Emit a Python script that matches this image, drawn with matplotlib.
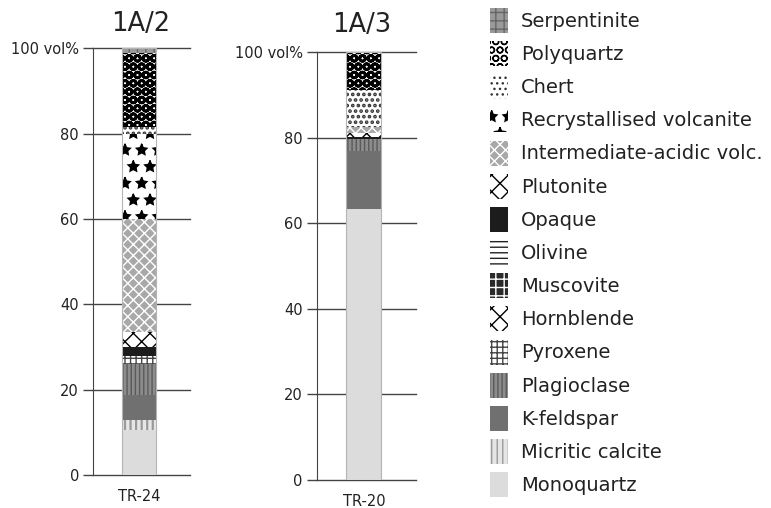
import matplotlib.pyplot as plt
from matplotlib.patches import Patch

# stacking order, bottom -> top
minerals = ['Monoquartz', 'Micritic calcite', 'K-feldspar', 'Plagioclase', 'Pyroxene',
            'Hornblende', 'Muscovite', 'Olivine', 'Opaque', 'Plutonite',
            'Intermediate-acidic volc.', 'Recrystallised volcanite', 'Chert',
            'Polyquartz', 'Serpentinite']

# vol%
tr24 = [10.6, 2.3, 5.9, 7.2, 1.9, 0, 0, 0, 2.2, 3.5, 26.4, 20.0, 1.5, 17.3, 1.2]
tr20 = [63.4, 0, 13.6, 2.7, 0, 0, 0, 0, 0.4, 1.0, 1.4, 0, 8.7, 8.8, 0]

samples = ['TR-24', 'TR-20']
titles = ['1A/2', '1A/3']
yticks = [0, 20, 40, 60, 80, 100]
ylabels = ['0', '20', '40', '60', '80', '100 vol%']

# facecolor, hatch colour, hatch, hatch linewidth
styles = {
    'Monoquartz': ('#dcdcdc', '#dcdcdc', '', 1.0),
    'Micritic calcite': ('#e6e6e6', '#9a9a9a', '|||', 1.6),
    'K-feldspar': ('#707070', '#707070', '', 1.0),
    'Plagioclase': ('#8c8c8c', '#5a5a5a', '||||', 1.0),
    'Pyroxene': ('white', '#444444', '+++', 1.0),
    'Hornblende': ('white', 'black', 'xx', 2.5),
    'Muscovite': ('#2a2a2a', 'white', '++', 1.0),
    'Olivine': ('white', '#222222', '---', 2.0),
    'Opaque': ('#1c1c1c', '#1c1c1c', '', 1.0),
    'Plutonite': ('white', 'black', 'xx', 1.0),
    'Intermediate-acidic volc.': ('#a8a8a8', 'white', 'xxx', 1.0),
    'Recrystallised volcanite': ('white', 'black', '*', 1.0),
    'Chert': ('white', '#333333', '...', 1.8),
    'Polyquartz': ('white', 'black', 'OO', 2.0),
    'Serpentinite': ('#9a9a9a', '#666666', '++', 1.0),
}

txt = '#222222'
axc = '#444444'

fig = plt.figure(figsize=(7.71, 5.08), dpi=100)
ax1 = fig.add_axes([0.1206, 0.0644, 0.1258, 0.8406])
ax2 = fig.add_axes([0.4108, 0.0551, 0.1294, 0.8419])


def draw_column(ax, values, sample):
    bottom = 0
    for name, v in zip(minerals, values):
        if v <= 0:
            continue
        fc, hc, hatch, hlw = styles[name]
        bars = ax.bar(0, v, width=1, bottom=bottom, color=fc, edgecolor=hc,
                      hatch=hatch, linewidth=0, zorder=2)
        for b in bars:
            if hasattr(b, 'set_hatch_linewidth'):
                b.set_hatch_linewidth(hlw)
        bottom += v
    # thin outline round the whole column
    ax.bar(0, sum(values), width=1, fill=False, edgecolor='#b5b5b5', linewidth=0.8, zorder=3)

    ax.set_xlim(-1.35, 1.5)
    ax.set_ylim(0, 100)
    ax.set_yticks(yticks)
    ax.set_yticklabels(ylabels)
    ax.set_xticks([0])
    ax.set_xticklabels([sample])
    for s in ['top', 'right', 'bottom']:
        ax.spines[s].set_visible(False)
    ax.spines['left'].set_color(axc)
    ax.tick_params(axis='y', direction='out', length=7, width=1, color=axc,
                   labelcolor=txt, labelsize=10.5, pad=3)
    ax.tick_params(axis='x', length=0, labelcolor=txt, labelsize=10.5, pad=10)
    ax.yaxis.grid(True, color=axc, linewidth=1)
    ax.set_axisbelow(True)
    for gl in ax.get_ygridlines():
        gl.set_clip_on(False)


draw_column(ax1, tr24, samples[0])
draw_column(ax2, tr20, samples[1])

fig.text(141 / 771, 1 - 24 / 508, titles[0], ha='center', va='center', fontsize=18.5, color=txt)
fig.text(362 / 771, 1 - 25 / 508, titles[1], ha='center', va='center', fontsize=18.5, color=txt)

handles = []
for name in minerals[::-1]:
    fc, hc, hatch, hlw = styles[name]
    p = Patch(facecolor=fc, edgecolor=hc, hatch=hatch, linewidth=0, label=name)
    if hasattr(p, 'set_hatch_linewidth'):
        p.set_hatch_linewidth(hlw)
    handles.append(p)

leg = fig.legend(handles=handles, loc='upper left', bbox_to_anchor=(490 / 771, 1 - 8 / 508),
                 frameon=False, fontsize=14, handlelength=0.93, handleheight=1.6,
                 handletextpad=0.67, labelspacing=0.42, borderaxespad=0, borderpad=0)
for t in leg.get_texts():
    t.set_color(txt)

fig.savefig('out.png', dpi=100)
